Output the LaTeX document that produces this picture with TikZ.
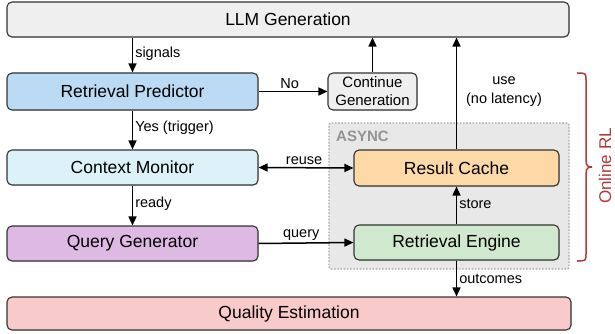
\documentclass[tikz,border=0pt]{standalone}
\usepackage{fontspec}
\setmainfont{Liberation Sans}
\usetikzlibrary{arrows.meta,shadows}
\definecolor{cgray}{HTML}{EFEFEF}
\definecolor{cblue}{HTML}{BBDAF4}
\definecolor{ccyan}{HTML}{DDF2F8}
\definecolor{cpurple}{HTML}{DDB9E4}
\definecolor{cpink}{HTML}{F8CACA}
\definecolor{corange}{HTML}{FDD9A8}
\definecolor{cgreen}{HTML}{D0E8CD}
\definecolor{casync}{HTML}{E8E8E8}
\definecolor{cred}{HTML}{B03A3A}
\definecolor{cborder}{HTML}{333333}
\tikzset{
  box/.style={draw=cborder, line width=1.1pt, rounded corners=5pt, inner sep=0pt,
    font=\fontsize{17.5}{20}\selectfont,
    drop shadow={opacity=0.18, shadow xshift=0.8pt, shadow yshift=-1pt}},
  lbl/.style={font=\fontsize{14.5}{17}\selectfont, inner sep=2pt},
  arr/.style={-{Triangle[length=9pt,width=8pt]}, line width=1.5pt},
  darr/.style={{Triangle[length=9pt,width=8pt]}-{Triangle[length=9pt,width=8pt]}, line width=1.5pt},
}
\begin{document}
\begin{tikzpicture}[x=1pt,y=-1pt]
\useasboundingbox (0,0) rectangle (615,334);
% async region
\node[draw=gray!70, dash pattern=on 1.6pt off 1.6pt, line width=1.3pt, fill=casync, rounded corners=2pt,
  minimum width=240pt, minimum height=146pt, inner sep=0pt] (async) at (449,196) {};
\node[anchor=west, font=\bfseries\fontsize{15}{17}\selectfont, text=gray!85, inner sep=0pt] (asynclbl) at (336,136) {ASYNC};

\node[box, fill=cgray, minimum width=562pt, minimum height=35pt] (llm) at (288,19.5) {LLM Generation};
\node[box, fill=cblue, minimum width=251pt, minimum height=37pt] (rp) at (132.5,91.5) {Retrieval Predictor};
\node[box, fill=cgray, minimum width=89pt, minimum height=37pt, align=center,
  font=\fontsize{15}{18}\selectfont] (cg) at (372.5,91.5) {Continue\\Generation};
\node[box, fill=ccyan, minimum width=251pt, minimum height=35pt] (cm) at (132.5,167.5) {Context Monitor};
\node[box, fill=cpurple, minimum width=251pt, minimum height=35pt] (qg) at (132.5,243.5) {Query Generator};
\node[box, fill=cpink, minimum width=564pt, minimum height=33pt] (qe) at (289,313.5) {Quality Estimation};
\node[box, fill=corange, minimum width=205pt, minimum height=36pt] (rc) at (456.5,168) {Result Cache};
\node[box, fill=cgreen, minimum width=205pt, minimum height=35pt] (re) at (456.5,242.5) {Retrieval Engine};

% connectors
\draw[arr] (llm.south -| rp) -- node[lbl, right, pos=0.45] {signals} (rp.north);
\draw[arr] (rp.east) -- node[lbl, above, pos=0.45] {No} (cg.west);
\draw[arr] (cg.north) -- (cg.north |- llm.south);
\draw[arr] (rp.south) -- node[lbl, right, pos=0.45] {Yes (trigger)} (cm.north);
\draw[darr] (cm.east) -- node[lbl, above, pos=0.48] {reuse} (rc.west);
\draw[arr] (cm.south) -- node[lbl, right, pos=0.45] {ready} (qg.north);
\draw[arr] (qg.east) -- node[lbl, above, pos=0.45] {query} (re.west);
\draw[arr] (re.north) -- node[lbl, right, pos=0.55] {store} (rc.south);
\draw[arr] (rc.north) -- (rc.north |- llm.south);
\node[lbl, align=center, font=\fontsize{14.5}{19}\selectfont] (uselbl) at (504,92) {use\\(no latency)};
\draw[arr] (re.south) -- node[lbl, right, pos=0.5] {outcomes} (re.south |- qe.north);

% brace
\coordinate (bt) at (577,73);
\coordinate (bb) at (577,261);
\draw[cred, line width=1.5pt] (bt) .. controls (586,73) .. (586,81) -- (586,160)
  .. controls (586,166) and (588,167) .. (592,167)
  .. controls (588,167) and (586,168) .. (586,174) -- (586,253) .. controls (586,261) .. (bb);
\node[rotate=90, text=cred, font=\fontsize{17}{20}\selectfont, inner sep=0pt] (orl) at (605,166) {Online RL};
\end{tikzpicture}
\end{document}
